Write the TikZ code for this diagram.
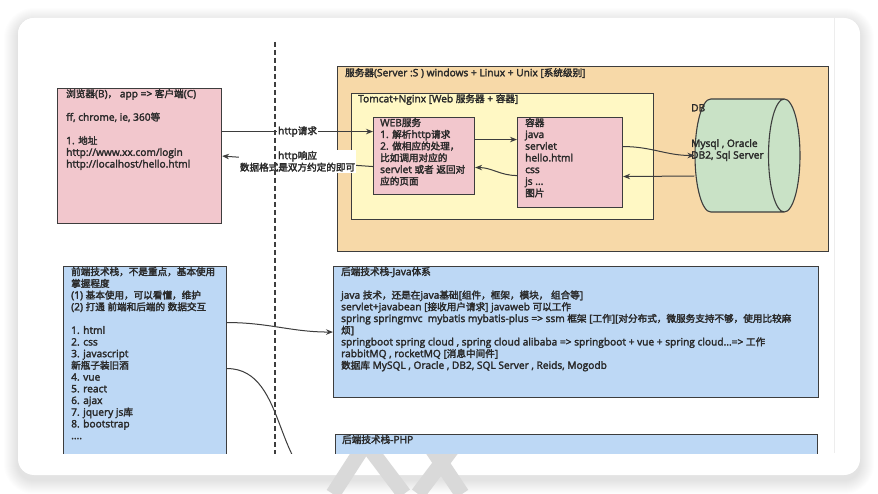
\documentclass[tikz,border=0pt]{standalone}
\usepackage{fontspec}
\setmainfont{Open Sans}[Scale=1.06, FakeBold=2.5]
\newfontfamily\cjkfont{Noto Sans CJK SC}[FakeBold=2.5]
\usetikzlibrary{shapes.geometric,arrows.meta,positioning}

\XeTeXinterchartokenstate=1
\newXeTeXintercharclass\cjkclass
\count255="3000
\loop \XeTeXcharclass\count255=\cjkclass \ifnum\count255<"303F \advance\count255 by 1 \repeat
\count255="4E00
\loop \XeTeXcharclass\count255=\cjkclass \ifnum\count255<"9FFF \advance\count255 by 1 \repeat
\count255="FF00
\loop \XeTeXcharclass\count255=\cjkclass \ifnum\count255<"FFEF \advance\count255 by 1 \repeat
\XeTeXinterchartoks 0 \cjkclass = {\begingroup\cjkfont}
\XeTeXinterchartoks 4095 \cjkclass = {\begingroup\cjkfont}
\XeTeXinterchartoks \cjkclass 0 = {\endgroup}
\XeTeXinterchartoks \cjkclass 4095 = {\endgroup}

\definecolor{pinkfill}{HTML}{F2C7CD}
\definecolor{orangefill}{HTML}{F7D9A8}
\definecolor{yellowfill}{HTML}{FFF8C4}
\definecolor{greenfill}{HTML}{C9E2C6}
\definecolor{bluefill}{HTML}{BDD8F5}
\definecolor{edgegray}{HTML}{3D3D3D}
\definecolor{textgray}{HTML}{2A2A2A}

\tikzset{
  box/.style={draw=edgegray, line width=1.1pt, inner sep=0pt, anchor=north west},
  boxtext/.style={anchor=north west, align=left, inner sep=0pt, text=textgray,
    font=\fontsize{9.6}{11.7}\selectfont},
  conn/.style={draw=edgegray, line width=1pt, -{Stealth[length=7pt,width=5.5pt]}},
  connlabel/.style={fill=white, inner sep=1pt, align=center, text=textgray,
    font=\fontsize{9.6}{11.7}\selectfont},
}

\begin{document}
\begin{tikzpicture}[x=1pt,y=-1pt]
\fill[white] (0,0) rectangle (878,494);
\foreach \i in {1,...,14}
  \fill[black, opacity=0.007, rounded corners=16+\i] (18-\i,22-\i) rectangle (860+\i,480+\i);
\fill[white, rounded corners=16] (18,18) rectangle (860,475);

\begin{scope}
\clip (0,453) rectangle (878,494);
\draw[black!15, line width=15pt] (333,494) -- (362,449);
\draw[black!15, line width=15pt] (370,449) -- (404,494);
\draw[black!15, line width=15pt] (418,494) -- (452,449);
\draw[black!15, line width=15pt] (432,449) -- (462,494);
\end{scope}

\begin{scope}
\clip[rounded corners=16] (18,18) rectangle (860,475);
\clip (18,18) rectangle (835,453);
\fill[white] (18,18) rectangle (835,453);
\draw[black!7] (834.5,18) -- (834.5,453);

\node[box, fill=pinkfill, minimum width=164pt, minimum height=135pt] (client) at (57,88) {};
\node[boxtext] (clienttxt) at (66,89)
{浏览器(B)，~app => 客户端(C)\\[11.7pt]ff, chrome, ie, 360等\\[11.7pt]1. 地址\\http://www.xx.com/login\\http://localhost/hello.html};

\node[box, fill=orangefill, minimum width=491pt, minimum height=185pt] (server) at (337,66) {};
\node[boxtext] (servertxt) at (345,68) {服务器(Server :S ) windows + Linux + Unix [系统级别]};

\node[box, fill=yellowfill, minimum width=302pt, minimum height=126pt] (tomcat) at (351,93) {};
\node[boxtext] (tomcattxt) at (358,94) {Tomcat+Nginx [Web 服务器 + 容器]};

\node[box, fill=pinkfill, minimum width=101pt, minimum height=77pt] (web) at (373,117) {};
\node[boxtext] (webtxt) at (380,118)
{WEB服务\\1. 解析http请求\\2. 做相应的处理，\\比如调用对应的\\servlet 或者 返回对\\应的页面};

\node[box, fill=pinkfill, minimum width=105pt, minimum height=90pt] (container) at (517,117) {};
\node[boxtext] (containertxt) at (525,118)
{容器\\java\\servlet\\hello.html\\css\\js ...\\图片};

\node[draw=edgegray, line width=1.1pt, cylinder, shape aspect=0.3, fill=greenfill, anchor=shape center,
  inner xsep=0pt, inner ysep=52.5pt, minimum width=113pt, minimum height=105pt] (db) at (747.5,155.5) {};
\node[boxtext] (dbtitle) at (691,104) {DB};
\node[boxtext] (dbtxt) at (691,139) {Mysql , Oracle\\DB2, Sql Server};

\node[box, fill=bluefill, minimum width=163pt, minimum height=200pt] (front) at (63,266) {};
\node[boxtext] (fronttxt) at (71,267)
{前端技术栈，不是重点，基本使用\\掌握程度\\(1) 基本使用，可以看懂，维护\\(2) 打通 前端和后端的 数据交互\\[11.7pt]1. html\\2. css\\3. javascript\\新瓶子装旧酒\\4. vue\\5. react\\6. ajax\\7. jquery js库\\8. bootstrap\\....};

\node[box, fill=bluefill, minimum width=485pt, minimum height=131pt] (java) at (333,266) {};
\node[boxtext] (javatxt) at (341,267)
{后端技术栈-Java体系\\[11.7pt]java 技术，还是在java基础[组件，框架，模块， 组合等]\\servlet+javabean [接收用户请求] javaweb 可以工作\\spring springmvc~~mybatis mybatis-plus => ssm 框架 [工作][对分布式，微服务支持不够，使用比较麻\\烦]\\springboot spring cloud , spring cloud alibaba => springboot + vue + spring cloud...=> 工作\\rabbitMQ , rocketMQ [消息中间件]\\数据库 MySQL , Oracle , DB2, SQL Server , Reids, Mogodb};

\node[box, fill=bluefill, minimum width=482pt, minimum height=100pt] (php) at (335,434) {};
\node[boxtext] (phptxt) at (342,435) {后端技术栈-PHP};

\draw[conn] ([yshift=24.5pt]client.east) -- node[connlabel] {http请求} ([yshift=24.5pt]web.west);
\draw[conn] ([yshift=-10.5pt]web.west) -- node[connlabel] {http响应\\数据格式是双方约定的即可} (client.east);
\draw[conn] ([yshift=16.5pt]web.east) -- ([yshift=23pt]container.west);
\draw[conn] ([yshift=-13pt]container.west) to[out=180,in=0] ([yshift=-11.5pt]web.east);
\draw[conn] ([yshift=16pt]container.east) to[out=0,in=180] (db.west);
\draw[conn] ([yshift=-20.5pt]db.west) -- ([yshift=-14pt]container.east);
\draw[conn] ([yshift=44pt]front.east) to[out=0,in=180] (java.west);
\draw[conn] ([yshift=-2pt]front.east) to[out=0,in=180] (php.west);

\draw[edgegray, line width=1.1pt, dash pattern=on 5pt off 3pt] (275,42) -- (275,460);
\end{scope}
\end{tikzpicture}
\end{document}
